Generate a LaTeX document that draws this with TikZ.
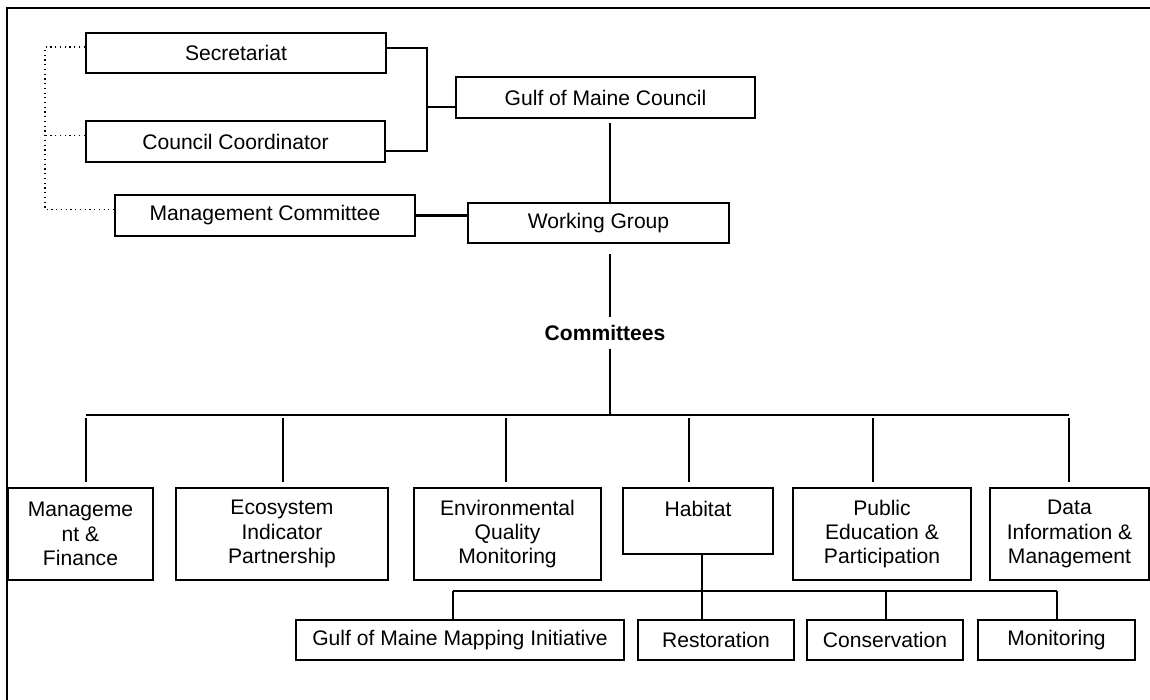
\documentclass[tikz,border=0pt]{standalone}
\usepackage{fontspec}
\setmainfont{Liberation Sans}
\usetikzlibrary{calc}

\tikzset{
  box/.style={draw,line width=1.3pt,rectangle,align=center,inner sep=2pt,
    font=\fontsize{12}{13.8}\selectfont},
  combox/.style={box,minimum height=1.84cm},
  subbox/.style={box,minimum height=0.8cm},
  link/.style={line width=1.2pt},
  sublink/.style={line width=1pt},
  dotline/.style={line width=0.7pt,dotted},
}

\begin{document}
\begin{tikzpicture}[x=0.02cm,y=-0.02cm]
\clip (0,0) rectangle (1150,700);
% outer frame, cut off at right and bottom
\draw[line width=1.2pt] (7,8) rectangle (1175,720);

% council level
\node[box,minimum width=6cm,minimum height=0.8cm] (sec) at (236,53) {Secretariat};
\node[box,minimum width=5.98cm,minimum height=0.82cm] (coord) at (235.5,141.5) {Council Coordinator};
\node[box,minimum width=6cm,minimum height=0.82cm] (mgmt) at (265,215.5) {Management Committee};
\node[box,minimum width=5.98cm,minimum height=0.82cm] (gomc) at (605.5,97.5) {Gulf of Maine Council};
\node[box,minimum width=5.22cm,minimum height=0.8cm] (wg) at (598.5,223) {Working Group};
\node[font=\fontsize{12}{13.8}\selectfont\bfseries,inner sep=4.3pt] (comm) at (605,333) {Committees};

% committees
\node[combox,minimum width=2.9cm] (mf) at (80.5,534) {Manageme\\nt \&\\Finance};
\node[combox,minimum width=4.24cm] (eco) at (282,534) {Ecosystem\\Indicator\\Partnership};
\node[combox,minimum width=3.74cm] (env) at (507.5,534) {Environmental\\Quality\\Monitoring};
\node[box,minimum width=3cm,minimum height=1.32cm,text depth=13.6pt] (hab) at (698,521) {Habitat};
\node[combox,minimum width=3.56cm] (pub) at (882,534) {Public\\Education \&\\Participation};
\node[combox,minimum width=3.18cm] (data) at (1069.5,534) {Data\\Information \&\\Management};

% habitat subcommittees
\node[subbox,minimum width=6.56cm] (gommi) at (460,640) {Gulf of Maine Mapping Initiative};
\node[subbox,minimum width=3.12cm] (rest) at (716,640) {Restoration};
\node[subbox,minimum width=3.12cm] (cons) at (885,640) {Conservation};
\node[subbox,minimum width=3.14cm] (moni) at (1056.5,640) {Monitoring};

% bracket to the council
\coordinate (bk) at (427,107);
\draw[link] ($(sec.east)+(0,-5)$) -| (bk) |- ($(coord.east)+(0,9.5)$);
\draw[link] (bk) -- (bk -| gomc.west);

% dotted staff lines
\coordinate (dx) at (45,0);
\draw[dotline] ($(sec.west)+(0,-6)$) -| ($(mgmt.west -| dx)+(0,-6)$) -- ($(mgmt.west)+(0,-6)$);
\draw[dotline] ($(coord.west)+(0,-6)$) -- ($(coord.west -| dx)+(0,-6)$);

% main spine
\coordinate (spine) at (610,415);
\draw[link,shorten <=2.3pt] (spine |- gomc.south) -- (spine |- wg.north);
\draw[link] (mgmt.east) -- (mgmt.east -| wg.west);
\draw[link,shorten <=5.7pt] (spine |- wg.south) -- (spine |- comm.north);
\draw[link] (spine |- comm.south) -- (spine);

% committee bus
\coordinate (d1) at (86,415);
\coordinate (d2) at (283,415);
\coordinate (d3) at (506,415);
\coordinate (d4) at (689,415);
\coordinate (d5) at (873,415);
\coordinate (d6) at (1069,415);
\draw[link] (d1) -- (d6);
\foreach \d/\b in {d1/mf,d2/eco,d3/env,d4/hab,d5/pub,d6/data}
  \draw[link,shorten <=1.7pt,shorten >=2.8pt] (\d) -- (\d |- \b.north);

% habitat bus
\coordinate (s1) at (453,591);
\coordinate (hx) at (702,591);
\coordinate (s3) at (886,591);
\coordinate (s4) at (1057,591);
\draw[sublink] (s1) -- (s4);
\draw[sublink] (hx |- hab.south) -- (hx |- rest.north);
\foreach \s/\b in {s1/gommi,s3/cons,s4/moni}
  \draw[sublink] (\s) -- (\s |- \b.north);
\end{tikzpicture}
\end{document}
